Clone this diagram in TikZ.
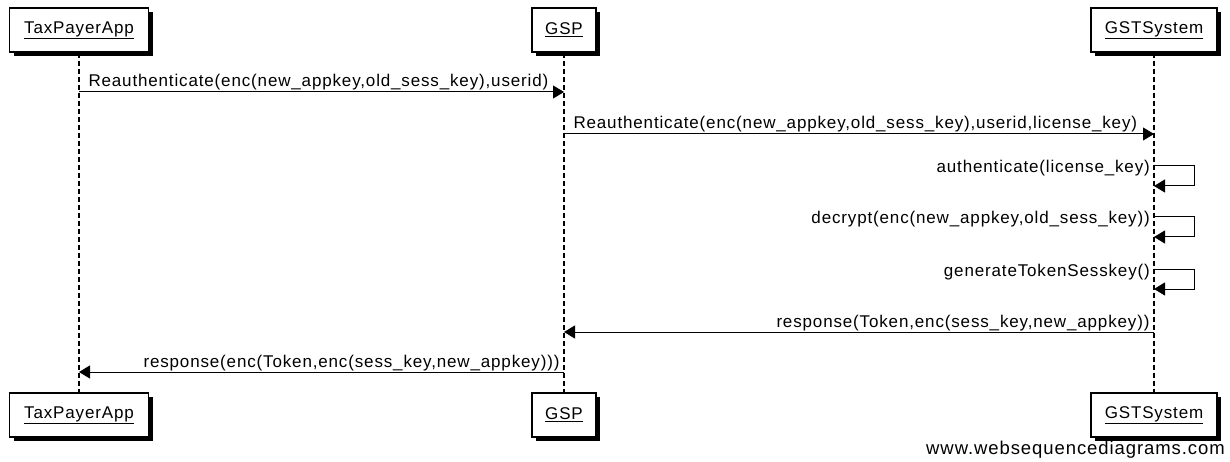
\documentclass[tikz,border=0pt]{standalone}
\usepackage{fontspec}
\setmainfont{Liberation Sans}
\newfontfamily\seqfont[LetterSpace=5]{Liberation Sans}
\usetikzlibrary{arrows.meta,shadows}
\begin{document}
\begin{tikzpicture}[x=1pt,y=-1pt,font=\seqfont\fontsize{17}{20}\selectfont,
  actor/.style={draw,fill=white,line width=1.2pt,minimum height=44pt,inner sep=0pt,
    drop shadow={shadow xshift=4pt,shadow yshift=-4pt,fill=black,opacity=1}},
  life/.style={line width=1.2pt,dash pattern=on 5pt off 3pt},
  msg/.style={line width=1pt,-{Triangle[length=11pt,width=13pt]}},
  lbl/.style={inner sep=0pt,yshift=5pt}]
  \useasboundingbox (0,0) rectangle (1230,462);
  \foreach \n/\t/\x/\w in {app/TaxPayerApp/79/139,gsp/GSP/564/64,gst/GSTSystem/1154/126} {
    \node[actor,minimum width=\w pt] (\n) at (\x,30) {\underline{\t}};
    \node[actor,minimum width=\w pt] (\n-b) at (\x,415) {\underline{\t}};
    \draw[life] (\n) -- (\n-b);
  }
  \draw[msg] (app |- 0,92) -- (gsp |- 0,92)
    node[lbl,pos=0,anchor=base west,xshift=9pt] {Reauthenticate(enc(new\_appkey,old\_sess\_key),userid)};
  \draw[msg] (gsp |- 0,134) -- (gst |- 0,134)
    node[lbl,pos=0,anchor=base west,xshift=9pt] {Reauthenticate(enc(new\_appkey,old\_sess\_key),userid,license\_key)};
  \foreach \t/\y in {{authenticate(license\_key)}/166,{decrypt(enc(new\_appkey,old\_sess\_key))}/217,{generateTokenSesskey()}/269} {
    \draw[msg] (gst |- 0,\y) -- ++(40,0) -- ++(0,20) -- (gst |- 0,\y+20);
    \node[inner sep=0pt,anchor=base east] at ([xshift=-4pt]gst |- 0,\y+7) {\t};
  }
  \draw[msg] (gst |- 0,332) -- (gsp |- 0,332)
    node[lbl,pos=0,anchor=base east,xshift=-4pt] {response(Token,enc(sess\_key,new\_appkey))};
  \draw[msg] (gsp |- 0,372) -- (app |- 0,372)
    node[lbl,pos=0,anchor=base east,xshift=-4pt] {response(enc(Token,enc(sess\_key,new\_appkey)))};
  \node[inner sep=0pt,anchor=east,font=\seqfont\fontsize{18.5}{20}\selectfont] (wsd) at (1225,450) {www.websequencediagrams.com};
\end{tikzpicture}
\end{document}
